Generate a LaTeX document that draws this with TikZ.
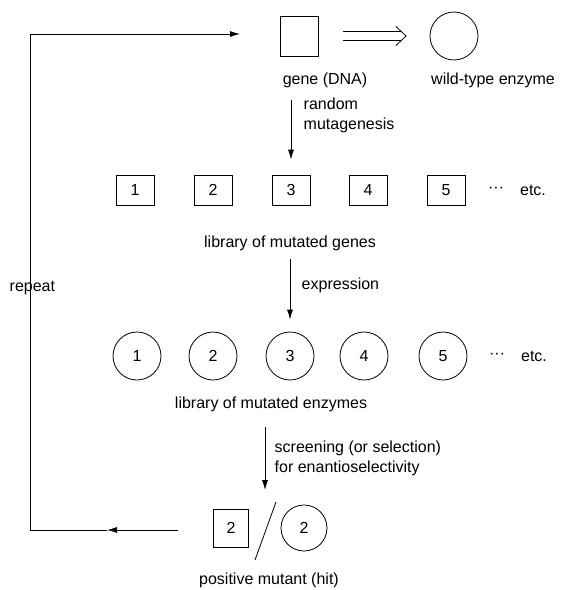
\documentclass[tikz,border=0pt]{standalone}
\usepackage{fontspec}
\setmainfont{Liberation Sans}
\usetikzlibrary{arrows.meta}

\begin{document}
\begin{tikzpicture}[x=1pt,y=-1pt,line width=0.8pt,
  font=\fontsize{16}{20}\selectfont,
  genebox/.style={draw,minimum width=38pt,minimum height=30pt,inner sep=0pt},
  enzyme/.style={draw,circle,minimum size=48pt,inner sep=0pt},
  flow/.style={-{Latex[length=10pt,width=6pt]}}]
\useasboundingbox (0,0) rectangle (579,590);

\node[genebox,minimum width=38pt,minimum height=40pt] (dna) at (299,36) {};
\node[enzyme] (wt) at (454,36) {};
\node (dnalabel) at (325,80) {gene (DNA)};
\node (wtlabel) at (493,80) {wild-type enzyme};
\coordinate (dblstart) at (343,36);
\coordinate (dbltip) at (406,36);
\draw ([yshift=4.5pt]dblstart) -- ([xshift=-5pt,yshift=4.5pt]dbltip);
\draw ([yshift=-4.5pt]dblstart) -- ([xshift=-5pt,yshift=-4.5pt]dbltip);
\draw ([xshift=-10pt,yshift=9.5pt]dbltip) -- (dbltip) -- ([xshift=-10pt,yshift=-9.5pt]dbltip);

\foreach \x [count=\i] in {135,213,291,368,446}
  \node[genebox] (g\i) at (\x,190) {\i};
\node (gdots) at (496,190) {···};
\node (getc) at (533,190) {etc.};
\node (genes) at (290,243) {library of mutated genes};
\draw[flow,shorten <=9pt,shorten >=15pt] (dnalabel.south -| g3.north) -- (g3.north);
\node[anchor=west,align=left] (mutagenesis) at (300,115) {random\\mutagenesis};

\foreach \x [count=\i] in {137,213,290,364,443}
  \node[enzyme] (e\i) at (\x,356) {\i};
\node (edots) at (497,356) {···};
\node (eetc) at (534,356) {etc.};
\node (enzymes) at (271,404) {library of mutated enzymes};
\draw[flow,shorten <=5pt,shorten >=12pt] (genes.south -| e3.north) -- (e3.north);
\node[anchor=west] (expression) at (298,285) {expression};

\node[genebox,minimum width=35pt,minimum height=38pt] (hitgene) at (231,528) {2};
\node[enzyme,minimum size=46pt] (hitenzyme) at (304,528) {2};
\coordinate (slashtop) at (276,502);
\coordinate (slashbot) at (255,560);
\draw (slashtop) -- (slashbot);
\node (hit) at (269,580) {positive mutant (hit)};
\coordinate (screentop) at (265,427);
\coordinate (screenend) at (265,490);
\draw[flow] (screentop) -- (screenend);
\node[anchor=west,align=left] (screening) at (271,458) {screening (or selection)\\for enantioselectivity};

\coordinate (loopstart) at (178,530);
\coordinate (loopmid) at (107,530);
\coordinate (loopcorner) at (30,530);
\coordinate (looptop) at (30,34);
\coordinate (loopend) at (240,34);
\draw[flow] (loopstart) -- (loopmid);
\draw[flow] (loopmid) -- (loopcorner) -- (looptop) -- (loopend);
\node[anchor=west] (repeat) at (6,288) {repeat};
\end{tikzpicture}
\end{document}
